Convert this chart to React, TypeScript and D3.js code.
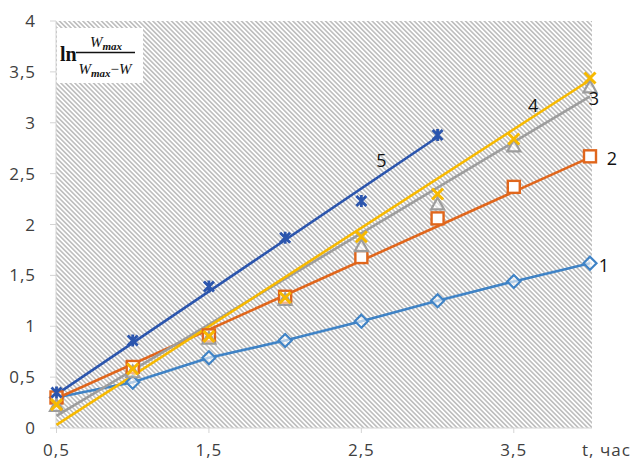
import React from "react";
import * as d3 from "d3";

// Time points, hours
const times = [0.5, 1, 1.5, 2, 2.5, 3, 3.5, 4];
const times5 = [0.5, 1, 1.5, 2, 2.5, 3];

// ln(Wmax / (Wmax - W)) for each experiment
const series1 = [0.3, 0.45, 0.69, 0.86, 1.05, 1.25, 1.44, 1.62];
const series2 = [0.3, 0.6, 0.91, 1.29, 1.68, 2.06, 2.37, 2.67];
const series3 = [0.22, 0.55, 0.88, 1.26, 1.79, 2.2, 2.77, 3.35];
const series4 = [0.23, 0.58, 0.9, 1.28, 1.88, 2.3, 2.84, 3.44];
const series5 = [0.35, 0.86, 1.39, 1.87, 2.23, 2.88];

// Linear trend lines: value at the first and last time of each series
const trend2 = [0.29, 2.66];
const trend3 = [0.12, 3.26];
const trend4 = [0.03, 3.42];
const trend5 = [0.33, 2.86];

const xTicks = [0.5, 1.5, 2.5, 3.5];
const yTicks = [0, 0.5, 1, 1.5, 2, 2.5, 3, 3.5, 4];
const seriesNames = ["1", "2", "3", "4", "5"];

const W = 634;
const H = 462;
const plot = { left: 56, right: 592, top: 21, bottom: 428 };

const x = d3.scaleLinear().domain([0.5, 4]).range([56.5, 590]);
const y = d3.scaleLinear().domain([0, 4]).range([plot.bottom, plot.top]);

const fmt = (v: number) => String(v).replace(".", ",");
const font = "'Open Sans', 'Noto Sans', sans-serif";

const C1 = "#3f83c6";
const C2 = "#e0661c";
const C3 = "#9d9d9d";
const C4 = "#f7b900";
const C5 = "#2b55ad";

const line = d3
  .line<[number, number]>()
  .x((d) => x(d[0]))
  .y((d) => y(d[1]));

function Diamond({ cx, cy }: { cx: number; cy: number }) {
  const r = 6.5;
  return (
    <path
      d={`M${cx},${cy - r}L${cx + r},${cy}L${cx},${cy + r}L${cx - r},${cy}Z`}
      fill="white"
      fillOpacity={0.6}
      stroke={C1}
      strokeWidth={2.2}
    />
  );
}

function Square({ cx, cy }: { cx: number; cy: number }) {
  const r = 6;
  return (
    <rect x={cx - r} y={cy - r} width={2 * r} height={2 * r} fill="white" stroke={C2} strokeWidth={2.4} />
  );
}

function Triangle({ cx, cy }: { cx: number; cy: number }) {
  const r = 6.5;
  return (
    <path
      d={`M${cx},${cy - r}L${cx + r},${cy + r * 0.8}L${cx - r},${cy + r * 0.8}Z`}
      fill="white"
      fillOpacity={0.5}
      stroke={C3}
      strokeWidth={2.2}
    />
  );
}

function Cross({ cx, cy }: { cx: number; cy: number }) {
  const r = 5.5;
  return (
    <path
      d={`M${cx - r},${cy - r}L${cx + r},${cy + r}M${cx + r},${cy - r}L${cx - r},${cy + r}`}
      stroke={C4}
      strokeWidth={3}
    />
  );
}

function Star({ cx, cy }: { cx: number; cy: number }) {
  const r = 5;
  return (
    <path
      d={`M${cx - r},${cy - r}L${cx + r},${cy + r}M${cx + r},${cy - r}L${cx - r},${cy + r}M${cx},${cy - r - 1}L${cx},${cy + r + 1}`}
      stroke={C5}
      strokeWidth={2.8}
    />
  );
}

function trendPath(ts: number[], tr: number[]) {
  return line([
    [ts[0], tr[0]],
    [ts[ts.length - 1], tr[1]],
  ]) as string;
}

export default function App() {
  const pts = (ts: number[], vs: number[]) => ts.map((t, i) => [t, vs[i]] as [number, number]);
  return (
    <svg width={W} height={H} style={{ position: "absolute", left: 0, top: 0, background: "white" }}>
      <defs>
        <pattern id="hatch" patternUnits="userSpaceOnUse" width={3.3} height={10} patternTransform="rotate(-45)">
          <rect width={3.3} height={10} fill="white" />
          <line x1={0.8} y1={0} x2={0.8} y2={10} stroke="#ababab" strokeWidth={1.25} />
        </pattern>
      </defs>

      {/* hatched plot area */}
      <rect
        x={plot.left}
        y={plot.top}
        width={plot.right - plot.left}
        height={plot.bottom - plot.top}
        fill="url(#hatch)"
      />

      {/* axes */}
      <line x1={plot.left} x2={plot.right} y1={plot.bottom} y2={plot.bottom} stroke="#d4d4d4" strokeWidth={1} />
      <line x1={plot.left} x2={plot.left} y1={plot.top} y2={plot.bottom} stroke="#d4d4d4" strokeWidth={1} />
      {yTicks.map((t) => (
        <g key={"y" + t}>
          <line x1={plot.left - 6} x2={plot.left} y1={y(t)} y2={y(t)} stroke="#d4d4d4" />
          <text
            x={36}
            y={y(t)}
            dy="0.36em"
            textAnchor="end"
            fontFamily={font}
            fontSize={17}
            letterSpacing={1}
            fill="#404040"
          >
            {fmt(t)}
          </text>
        </g>
      ))}
      {xTicks.map((t) => (
        <g key={"x" + t}>
          <line x1={x(t)} x2={x(t)} y1={plot.bottom} y2={plot.bottom + 5} stroke="#d4d4d4" />
          <text
            x={x(t)}
            y={456}
            textAnchor="middle"
            fontFamily={font}
            fontSize={17}
            letterSpacing={1}
            fill="#404040"
          >
            {fmt(t)}
          </text>
        </g>
      ))}
      <text x={582} y={456} fontFamily={font} fontSize={17} letterSpacing={1} fill="#404040">
        t, час
      </text>

      {/* axis title box */}
      <rect x={57} y={28} width={86} height={55} fill="white" />
      <text x={60} y={61} fontFamily="'Liberation Serif', serif" fontSize={20} fill="#111" fontWeight="bold">
        ln
      </text>
      <line x1={76} x2={135} y1={52.5} y2={52.5} stroke="#111" strokeWidth={1.3} />
      <text x={106} y={47} textAnchor="middle" fontFamily="'Liberation Serif', serif" fill="#111">
        <tspan fontSize={15} fontStyle="italic">W</tspan>
        <tspan fontSize={11} dy={3} fontStyle="italic" fontWeight="bold">max</tspan>
      </text>
      <text x={105} y={74} textAnchor="middle" fontFamily="'Liberation Serif', serif" fill="#111">
        <tspan fontSize={15} fontStyle="italic">W</tspan>
        <tspan fontSize={11} dy={3} fontStyle="italic" fontWeight="bold">max</tspan>
        <tspan fontSize={15} dy={-3}>−</tspan>
        <tspan fontSize={15} fontStyle="italic">W</tspan>
      </text>

      {/* series lines */}
      <path d={line(pts(times, series1)) as string} fill="none" stroke={C1} strokeWidth={2.6} />
      <path d={trendPath(times, trend2)} fill="none" stroke={C2} strokeWidth={2.6} />
      <path d={trendPath(times, trend3)} fill="none" stroke={C3} strokeWidth={2.6} />
      <path d={trendPath(times, trend4)} fill="none" stroke={C4} strokeWidth={2.6} />
      <path d={trendPath(times5, trend5)} fill="none" stroke={C5} strokeWidth={2.6} />

      {/* markers */}
      {pts(times, series1).map(([t, v], i) => (
        <Diamond key={"d" + i} cx={x(t)} cy={y(v)} />
      ))}
      {pts(times, series2).map(([t, v], i) => (
        <Square key={"s" + i} cx={x(t)} cy={y(v)} />
      ))}
      {pts(times, series3).map(([t, v], i) => (
        <Triangle key={"t" + i} cx={x(t)} cy={y(v)} />
      ))}
      {pts(times, series4).map(([t, v], i) => (
        <Cross key={"c" + i} cx={x(t)} cy={y(v)} />
      ))}
      {pts(times5, series5).map(([t, v], i) => (
        <Star key={"a" + i} cx={x(t)} cy={y(v)} />
      ))}

      {/* series numbers */}
      {[
        [4, series1[7], 14, 2],
        [4, series2[7], 22, 2],
        [4, trend3[1], 4, 2],
        [3.6, trend4[1] - 0.28, 4, -3],
        [2.5, series5[4] + 0.45, 20, 5],
      ].map(([t, v, dx, dy], i) => (
        <text
          key={"n" + i}
          x={x(t) + dx}
          y={y(v) + dy}
          dy="0.36em"
          textAnchor="middle"
          fontFamily={font}
          fontSize={18}
          fill="#111"
        >
          {seriesNames[i]}
        </text>
      ))}
    </svg>
  );
}
